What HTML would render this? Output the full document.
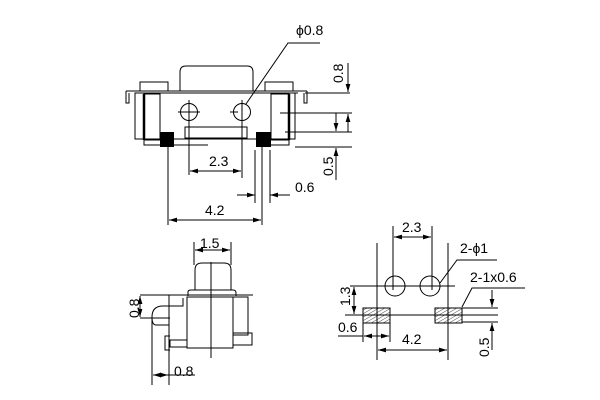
<!DOCTYPE html>
<html><head><meta charset="utf-8"><style>
html,body{margin:0;padding:0;background:#fff}
svg{display:block}
text{font-family:"Liberation Sans",sans-serif;font-size:14px;fill:#000}
</style></head><body>
<svg width="600" height="400" viewBox="0 0 600 400" xmlns="http://www.w3.org/2000/svg">
<defs>
<marker id="a" viewBox="0 0 10 6" refX="10" refY="3" markerWidth="8" markerHeight="5" orient="auto-start-reverse"><path d="M0,0 L10,3 L0,6 z" fill="#000"/></marker>
<pattern id="h" width="3" height="3" patternUnits="userSpaceOnUse" patternTransform="rotate(60)"><line x1="0" y1="0" x2="0" y2="3" stroke="#000" stroke-width="0.7"/></pattern>
</defs>
<g stroke="#000" stroke-width="1" fill="none">
<path d="M180,91 V72 Q180,66 186,66 H247 Q253,66 253,72 V91"/>
<rect x="140" y="82" width="28" height="9"/>
<rect x="265" y="82" width="28" height="9"/>
<line x1="126" y1="91" x2="307" y2="91"/>
<line x1="135" y1="93" x2="298" y2="93"/>
<path d="M126,91 V103 H129 V93"/>
<path d="M307,91 V103 H304 V93"/>
<rect x="135" y="93" width="160" height="46"/>
<line x1="144" y1="94" x2="144" y2="140" stroke-width="2.5"/>
<rect x="144" y="94" width="16" height="46"/>
<line x1="289" y1="94" x2="289" y2="140" stroke-width="2.5"/>
<rect x="271" y="94" width="18" height="46"/>
<path d="M144,139 V145 H208"/>
<path d="M289,139 V145 H271"/>
<circle cx="189" cy="112" r="8.5"/>
<circle cx="242" cy="112" r="8.5"/>
<line x1="189" y1="100" x2="189" y2="175"/>
<line x1="178" y1="112" x2="200" y2="112"/>
<line x1="242" y1="100" x2="242" y2="178"/>
<line x1="230" y1="112" x2="238" y2="112"/>
<rect x="185" y="127" width="62" height="11"/>
<line x1="168" y1="147" x2="168" y2="225"/>
<line x1="262" y1="147" x2="262" y2="225"/>
<line x1="255" y1="150" x2="255" y2="203"/>
<line x1="270" y1="150" x2="270" y2="203"/>
<line x1="190" y1="171" x2="241" y2="171" marker-start="url(#a)" marker-end="url(#a)"/>
<line x1="237" y1="195" x2="255" y2="195" marker-end="url(#a)"/>
<line x1="290" y1="195" x2="270" y2="195" marker-end="url(#a)"/>
<line x1="169" y1="220" x2="261" y2="220" marker-start="url(#a)" marker-end="url(#a)"/>
<path d="M320,43 H288 L246,104"/>
<line x1="305" y1="93" x2="350" y2="93"/>
<line x1="280" y1="113" x2="352" y2="113"/>
<line x1="285" y1="132" x2="352" y2="132"/>
<line x1="295" y1="147" x2="352" y2="147"/>
<line x1="348" y1="63" x2="348" y2="92" marker-end="url(#a)"/>
<line x1="336" y1="113" x2="336" y2="131" marker-end="url(#a)"/>
<line x1="348" y1="132" x2="348" y2="114" marker-end="url(#a)"/>
<line x1="336" y1="180" x2="336" y2="148" marker-end="url(#a)"/>
<line x1="194" y1="242" x2="194" y2="265"/>
<line x1="231" y1="242" x2="231" y2="265"/>
<line x1="195" y1="250" x2="230" y2="250" marker-start="url(#a)" marker-end="url(#a)"/>
<path d="M195,290 V270 Q195,263 202,263 H224 Q231,263 231,270 V290"/>
<path d="M188,296 V292 Q188,290 191,290 H233 Q236,290 236,293 V296"/>
<line x1="169" y1="295" x2="253" y2="295"/>
<rect x="187" y="297" width="46" height="51"/>
<rect x="233" y="297" width="15" height="38"/>
<rect x="233" y="333" width="19" height="12"/>
<line x1="211" y1="262" x2="211" y2="358"/>
<path d="M183,298 V306 H163 Q152,306 152,317 Q152,325 156,325 H169"/>
<line x1="169" y1="295" x2="169" y2="385"/>
<line x1="152" y1="318" x2="152" y2="385"/>
<path d="M170,336 H165 V350 H170"/>
<rect x="170" y="340" width="17" height="7"/>
<line x1="140" y1="295" x2="172" y2="295"/>
<line x1="140" y1="318" x2="170" y2="318"/>
<line x1="140" y1="296" x2="140" y2="317" marker-start="url(#a)" marker-end="url(#a)"/>
<line x1="153" y1="375" x2="168" y2="375" marker-start="url(#a)" marker-end="url(#a)"/>
<line x1="168" y1="375" x2="195" y2="375"/>
<line x1="393" y1="226" x2="393" y2="290"/>
<line x1="432" y1="226" x2="432" y2="290"/>
<line x1="394" y1="237" x2="431" y2="237" marker-start="url(#a)" marker-end="url(#a)"/>
<line x1="377" y1="243" x2="377" y2="360"/>
<line x1="448" y1="243" x2="448" y2="360"/>
<circle cx="395" cy="286" r="10"/>
<circle cx="430" cy="286" r="10"/>
<line x1="350" y1="286" x2="455" y2="286"/>
<path d="M497,260 H457 L440,283"/>
<rect x="363" y="308" width="27" height="15" fill="url(#h)"/>
<rect x="435" y="308" width="27" height="15" fill="url(#h)"/>
<path d="M525,288 H472 L462,307"/>
<line x1="345" y1="315" x2="498" y2="315"/>
<line x1="462" y1="308" x2="498" y2="308"/>
<line x1="462" y1="322" x2="498" y2="322"/>
<line x1="354" y1="287" x2="354" y2="314" marker-start="url(#a)" marker-end="url(#a)"/>
<line x1="363" y1="323" x2="363" y2="342"/>
<line x1="390" y1="323" x2="390" y2="342"/>
<line x1="338" y1="336" x2="363" y2="336"/>
<line x1="364" y1="336" x2="389" y2="336" marker-start="url(#a)" marker-end="url(#a)"/>
<line x1="378" y1="350" x2="447" y2="350" marker-start="url(#a)" marker-end="url(#a)"/>
<line x1="492" y1="290" x2="492" y2="307" marker-end="url(#a)"/>
<line x1="492" y1="350" x2="492" y2="323" marker-end="url(#a)"/>
</g>
<g stroke="none" fill="#000">
<rect x="160" y="132" width="14" height="15"/>
<rect x="256" y="132" width="15" height="15"/>
</g>
<text x="209" y="166">2.3</text>
<text x="295" y="192">0.6</text>
<text x="205" y="215">4.2</text>
<text x="296" y="35">ϕ0.8</text>
<text transform="translate(343,83) rotate(-90)">0.8</text>
<text transform="translate(333,176) rotate(-90)">0.5</text>
<text x="200" y="248">1.5</text>
<text transform="translate(139,318) rotate(-90)">0.8</text>
<text x="174" y="376">0.8</text>
<text x="402" y="232">2.3</text>
<text x="460" y="253">2-ϕ1</text>
<text x="470" y="282">2-1x0.6</text>
<text transform="translate(350,306) rotate(-90)">1.3</text>
<text x="338" y="332">0.6</text>
<text x="402" y="344">4.2</text>
<text transform="translate(489,357) rotate(-90)">0.5</text>
</svg>
</body></html>
